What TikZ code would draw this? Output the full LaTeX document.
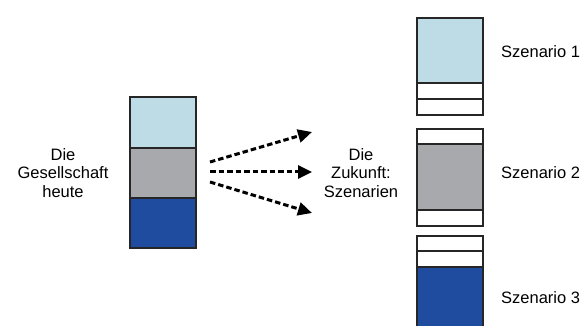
\documentclass[tikz,border=0pt]{standalone}
\usepackage{fontspec}
\setmainfont{Liberation Sans}
\usetikzlibrary{arrows.meta}
\definecolor{lightblue}{RGB}{190,220,229}
\definecolor{midgray}{RGB}{167,169,172}
\definecolor{deepblue}{RGB}{31,76,158}
\tikzset{
  seg/.style={draw=black!85, line width=1.8pt, minimum width=66pt, inner sep=0pt, outer sep=0pt},
  lbl/.style={font=\fontsize{16.5}{18.5}\selectfont, align=center, inner sep=0pt},
  flow/.style={line width=3pt, dash pattern=on 5.5pt off 3pt, -{Triangle[length=14pt,width=13pt]}},
}
\begin{document}
\begin{tikzpicture}[x=1pt,y=-1pt]
  \useasboundingbox (0,0) rectangle (584,326);
  % today's society: one column of three segments
  \node[seg, fill=lightblue, minimum height=51pt, anchor=north west] (t1) at (130,97) {};
  \node[seg, fill=midgray, minimum height=50pt, anchor=north west] (t2) at (130,148) {};
  \node[seg, fill=deepblue, minimum height=50pt, anchor=north west] (t3) at (130,198) {};
  % scenario 1
  \node[seg, fill=lightblue, minimum height=65pt, anchor=north west] (a1) at (417,18) {};
  \node[seg, fill=white, minimum height=16pt, anchor=north west] (a2) at (417,83) {};
  \node[seg, fill=white, minimum height=16pt, anchor=north west] (a3) at (417,99) {};
  % scenario 2
  \node[seg, fill=white, minimum height=15pt, anchor=north west] (b1) at (417,129) {};
  \node[seg, fill=midgray, minimum height=66pt, anchor=north west] (b2) at (417,144) {};
  \node[seg, fill=white, minimum height=16pt, anchor=north west] (b3) at (417,210) {};
  % scenario 3 (runs past the lower edge)
  \node[seg, fill=white, minimum height=15pt, anchor=north west] (c1) at (417,236) {};
  \node[seg, fill=white, minimum height=16pt, anchor=north west] (c2) at (417,251) {};
  \node[seg, fill=deepblue, minimum height=63pt, anchor=north west] (c3) at (417,267) {};
  % labels
  \node[lbl] (today) at (63,173) {Die\\Gesellschaft\\heute};
  \node[lbl] (future) at (361,173) {Die\\Zukunft:\\Szenarien};
  \node[lbl, anchor=west] (s1) at (501,52) {Szenario 1};
  \node[lbl, anchor=west] (s2) at (501,173) {Szenario 2};
  \node[lbl, anchor=west] (s3) at (501,298) {Szenario 3};
  % arrow ends
  \coordinate (o1) at (210,162);
  \coordinate (o2) at (210,172);
  \coordinate (o3) at (210,182);
  \coordinate (e1) at (312,132);
  \coordinate (e2) at (312,172);
  \coordinate (e3) at (312,213);
  \draw[flow] (o1) -- (e1);
  \draw[flow] (o2) -- (e2);
  \draw[flow] (o3) -- (e3);
\end{tikzpicture}
\end{document}
